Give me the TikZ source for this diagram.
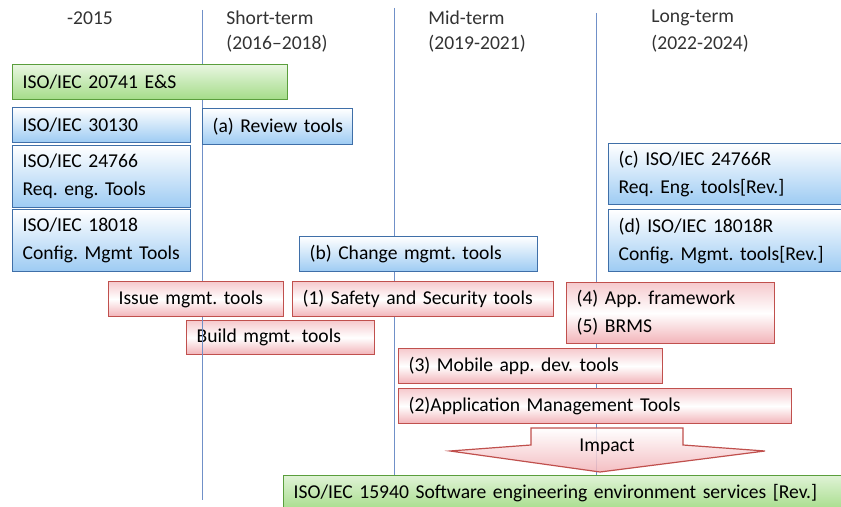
\documentclass[tikz,border=0pt]{standalone}
\usepackage{fontspec}
\setmainfont{Carlito}
\definecolor{lineblue}{HTML}{7090C8}
\definecolor{bluedraw}{HTML}{3F6FA8}
\definecolor{bluefill}{HTML}{9DCBF3}
\definecolor{reddraw}{HTML}{C0504D}
\definecolor{redfill}{HTML}{F2B3B8}
\definecolor{greendraw}{HTML}{5A9E3C}
\definecolor{greenfill}{HTML}{A4DC88}
\definecolor{headgray}{HTML}{333333}

\tikzset{
  tool/.style={anchor=north west, inner xsep=5pt, inner ysep=0pt, align=left,
    font=\fontsize{9.8}{14}\selectfont\frenchspacing, line width=0.6pt},
  sized/.style n args={3}{minimum width=#1pt, text width=#2pt, minimum height=#3pt},
  std/.style={tool, draw=greendraw, top color=greenfill!25, bottom color=greenfill},
  blue/.style={tool, draw=bluedraw, top color=white, bottom color=bluefill},
  red/.style={tool, draw=reddraw, top color=redfill!70, bottom color=redfill, middle color=white},
  head/.style={anchor=west, inner sep=0pt, text=headgray, font=\fontsize{9.8}{14}\selectfont},
  period/.style={lineblue, line width=0.5pt}
}

\begin{document}
\begin{tikzpicture}[x=0.5pt, y=-0.5pt]
\useasboundingbox (0,0) rectangle (841,507);

% headings
\node[head, anchor=center] (h0) at (90,18) {-2015};
\node[head] (h1) at (226,18) {Short-term};
\node[head] (h1y) at (226,44) {(2016--2018)};
\node[head] (h2) at (428,18) {Mid-term};
\node[head] (h2y) at (428,44) {(2019-2021)};
\node[head] (h3) at (651,18) {Long-term};
\node[head] (h3y) at (651,44) {(2022-2024)};

% box that the first line crosses in front
\node[red, sized={94}{84}{17}] (build) at (186,320) {Build mgmt. tools};

% period lines
\coordinate (p1t) at (202,10);  \coordinate (p1b) at (202,500);
\coordinate (p2t) at (394,8);   \coordinate (p2b) at (394,475);
\coordinate (p3t) at (596,13);  \coordinate (p3b) at (596,475);
\draw[period] (p1t) -- (p1b);
\draw[period] (p2t) -- (p2b);
\draw[period] (p3t) -- (p3b);

% existing standards
\node[std, sized={137.5}{127.5}{17.5}] (es) at (12,64) {ISO/IEC 20741 E\&S};
\node[blue, sized={89}{79}{17.5}] (s30130) at (12,107) {ISO/IEC 30130};
\node[blue, sized={89}{79}{31}] (s24766) at (12,145) {ISO/IEC 24766\\Req. eng. Tools};
\node[blue, sized={89}{79}{31}] (s18018) at (12,209) {ISO/IEC 18018\\Config. Mgmt Tools};

% planned standards
\node[blue, sized={75}{65}{18}] (sa) at (202,108) {\mbox{(a) Review tools}};
\node[blue, sized={119}{109}{17.5}] (sb) at (299,236) {(b) Change mgmt. tools};
\node[blue, sized={121}{111}{30.5}] (sc) at (608,143) {(c) ISO/IEC 24766R\\Req. Eng. tools[Rev.]};
\node[blue, sized={121}{111}{31}] (sd) at (608,209) {(d) ISO/IEC 18018R\\Config. Mgmt. tools[Rev.]};

% new tool areas
\node[red, sized={87.5}{77.5}{17.5}] (issue) at (108,281) {Issue mgmt. tools};
\node[red, sized={130.5}{120.5}{17.5}] (t1) at (292,281) {(1) Safety and Security tools};
\node[red, sized={104}{94}{30.5}] (t45) at (566,282) {(4) App. framework\\(5) BRMS};
\node[red, sized={132}{122}{17.5}] (t3) at (398,348) {(3) Mobile app. dev. tools};
\node[red, sized={196.5}{186.5}{17.5}] (t2) at (398,388) {(2)Application Management Tools};

% impact arrow
\draw[reddraw, line width=0.6pt, top color=white, bottom color=redfill, fill opacity=0.85]
  (531,428) -- (683,428) -- (683,445) -- (765,451) -- (600,472)
  -- (450,451) -- (531,445) -- cycle;
\node[inner sep=0pt, font=\fontsize{9.8}{14}\selectfont] (impact) at (607,447) {Impact};

% target standard
\node[std, top color=greenfill!35, sized={283.5}{273.5}{18}] (s15940) at (283,475)
  {ISO/IEC 15940 Software engineering environment services [Rev.]};
\end{tikzpicture}
\end{document}
